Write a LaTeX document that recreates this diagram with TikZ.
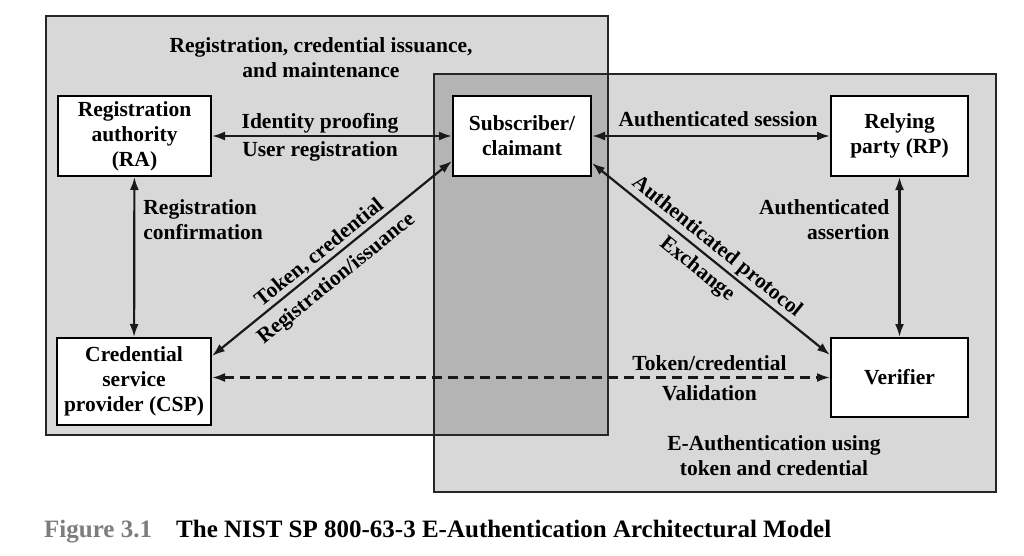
\documentclass[tikz,border=0pt]{standalone}
\usepackage{fontspec}
\setmainfont{Liberation Serif}
\usetikzlibrary{arrows.meta}
\usetikzlibrary{calc}

\definecolor{zonegray}{RGB}{216,216,216}
\definecolor{overgray}{RGB}{180,180,180}
\definecolor{rimgray}{RGB}{38,38,38}
\definecolor{figgray}{RGB}{125,125,125}
\newcommand{\lblfont}{\bfseries\fontsize{21.5}{25}\selectfont}
\newcommand{\capfont}{\bfseries\fontsize{25}{30}\selectfont}

\begin{document}
\begin{tikzpicture}[
		x=1pt, y=-1pt,
		> = {Latex[length=13pt, width=9pt]},
		every node/.style = {font=\lblfont, align=center},
		party/.style = {draw=black, fill=white, line width=2pt, inner sep=0pt},
		link/.style = {<->, line width=2.2pt, draw=black!90},
		tag/.style = {inner sep=1pt},
		zone/.style = {draw=rimgray, line width=2.2pt}
		]
	\useasboundingbox (0,0) rectangle (1024,556);

	\coordinate (l1) at (46,16);
	\coordinate (l2) at (608,435);
	\coordinate (r1) at (434,74);
	\coordinate (r2) at (996,492);

	\fill[zonegray] (l1) rectangle (l2);
	\fill[zonegray] (r1) rectangle (r2);
	\fill[overgray] (r1) rectangle (l2);
	\draw[zone] (l1) rectangle (l2);
	\draw[zone] (r1) rectangle (r2);

	\node (regzone) at (321,58) {Registration, credential issuance,\\and maintenance};
	\node (authzone) at (774,456) {E-Authentication using\\token and credential};

	\node[party, minimum width=153pt, minimum height=80pt] (ra)  at (134.5,136) {Registration\\authority\\(RA)};
	\node[party, minimum width=138pt, minimum height=80pt] (sub) at (522,136)   {Subscriber/\\claimant};
	\node[party, minimum width=137pt, minimum height=80pt] (rp)  at (899.5,136) {Relying\\party (RP)};
	\node[party, minimum width=154pt, minimum height=87pt] (csp) at (134,381.5) {Credential\\service\\provider (CSP)};
	\node[party, minimum width=137pt, minimum height=79pt] (ver) at (899.5,377.5) {Verifier};

	\draw[link] (ra) -- node[tag, pos=.45, above=1pt] {Identity proofing}
		node[tag, pos=.45, below=3.5pt] {User registration} (sub);
	\draw[link] (sub) -- node[tag, pos=.53, above=7pt] {Authenticated session} (rp);
	\draw[link] (ra) -- node[tag, pos=.265, right=7pt, align=left] {Registration\\confirmation} (csp);
	\draw[link] (rp) -- node[tag, pos=.265, left=8pt, align=right] {Authenticated\\assertion} (ver);
	\draw[link] ([yshift=-19pt]csp.north east) --
		node[tag, pos=.48, sloped, above=1pt] {Token, credential}
		node[tag, pos=.47, sloped, below=7pt] {Registration/issuance} ([yshift=16pt]sub.south west);
	\draw[link] ([yshift=14pt]sub.south east) --
		node[tag, pos=.49, sloped, above=1pt] {Authenticated protocol}
		node[tag, pos=.485, sloped, below=5pt] {Exchange} ([yshift=-18pt]ver.north west);
	\draw[link, dash pattern=on 10pt off 6pt] (csp.east |- ver.west) --
		node[tag, pos=.805, above=5pt] {Token/credential}
		node[tag, pos=.805, below=6pt] {Validation} (ver.west);

	\node[anchor=base west, inner sep=0pt, font=\capfont, text=figgray] (fig) at (44,537) {Figure 3.1};
	\node[anchor=base west, inner sep=0pt, font=\capfont] (cap) at (176,537) {The NIST SP 800-63-3 E-Authentication Architectural Model};
\end{tikzpicture}
\end{document}
